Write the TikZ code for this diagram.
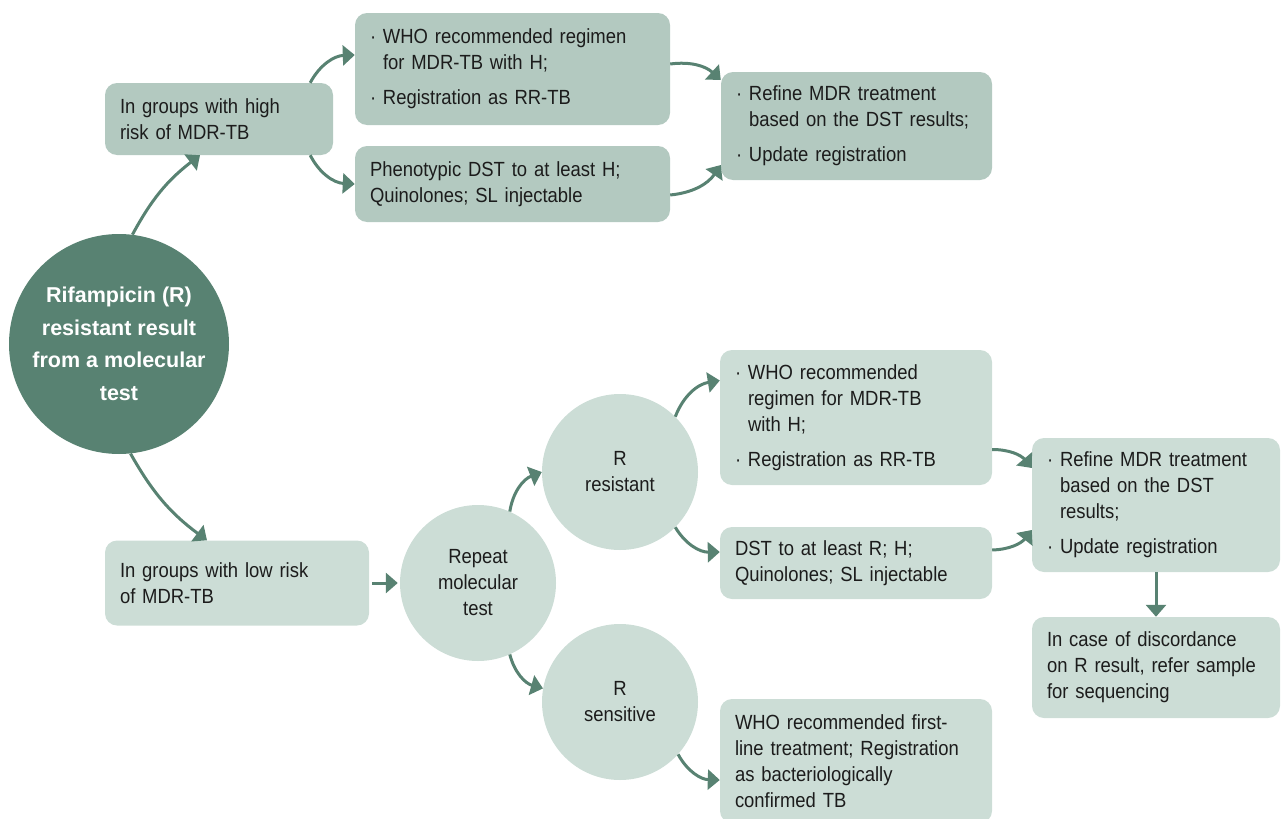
\documentclass[tikz,border=0pt]{standalone}
\usepackage{fontspec}
\setmainfont{Liberation Sans}[FakeStretch=0.9]
\newfontfamily\titlefont{Liberation Sans}
\usetikzlibrary{arrows.meta}
\definecolor{dk}{RGB}{88,130,114}
\definecolor{midc}{RGB}{179,201,192}
\definecolor{ltc}{RGB}{204,221,214}
\definecolor{txt}{RGB}{28,28,28}
\newcommand{\bl}{\textperiodcentered}
\tikzset{
  boxbase/.style={rectangle, rounded corners=12pt, draw=none, text=txt, align=left,
    inner xsep=15pt, inner ysep=0pt, font=\fontsize{20.5}{26}\selectfont, anchor=center},
  boxA/.style={boxbase, fill=midc},
  boxB/.style={boxbase, fill=ltc},
  circ/.style={circle, fill=ltc, draw=none, text=txt, align=center, inner sep=0pt,
    minimum size=156pt, font=\fontsize{20.5}{26}\selectfont},
  maincirc/.style={circle, fill=dk, draw=none, text=white, align=center, inner sep=0pt,
    minimum size=220pt, font=\titlefont\bfseries\fontsize{21.5}{32.5}\selectfont},
  arr/.style={draw=dk, line width=3pt, -{Triangle[length=12pt,width=20pt]}}
}
\begin{document}
\begin{tikzpicture}[x=1pt,y=-1pt]
\path[use as bounding box, clip] (0,0) rectangle (1285,819);
% main circle
\node[maincirc] (main) at (119,344) {Rifampicin (R)\\resistant result\\from a molecular\\test};
% top branch
\node[boxA, minimum width=228pt, minimum height=72pt, text width=198pt] (hi) at (219,119)
  {In groups with high\\risk of MDR-TB};
\node[boxA, minimum width=315pt, minimum height=112pt, text width=285pt] (t1) at (512.5,69)
  {\begin{tabular}{@{}p{13pt}@{}l@{}}\bl&WHO recommended regimen\\&for MDR-TB with H;\\[9pt]\bl&Registration as RR-TB\end{tabular}};
\node[boxA, minimum width=315pt, minimum height=76pt, text width=285pt] (t2) at (512.5,184)
  {Phenotypic DST to at least H;\\Quinolones; SL injectable};
\node[boxA, minimum width=271pt, minimum height=108pt, text width=241pt] (tr) at (856.5,126)
  {\begin{tabular}{@{}p{13pt}@{}l@{}}\bl&Refine MDR treatment\\&based on the DST results;\\[9pt]\bl&Update registration\end{tabular}};
% bottom branch
\node[boxB, minimum width=264pt, minimum height=85pt, text width=234pt] (lo) at (237,583)
  {In groups with low risk\\of MDR-TB};
\node[circ] (rep) at (478,583) {Repeat\\molecular\\test};
\node[circ] (rr) at (620,472) {R\\resistant};
\node[circ] (rs) at (620,702) {R\\sensitive};
\node[boxB, minimum width=272pt, minimum height=135pt, text width=242pt] (m1) at (856,417.5)
  {\begin{tabular}{@{}p{13pt}@{}l@{}}\bl&WHO recommended\\&regimen for MDR-TB\\&with H;\\[9pt]\bl&Registration as RR-TB\end{tabular}};
\node[boxB, minimum width=272pt, minimum height=72pt, text width=242pt] (m2) at (856,563)
  {DST to at least R; H;\\Quinolones; SL injectable};
\node[boxB, minimum width=272pt, minimum height=124pt, text width=242pt] (sb) at (856,761)
  {WHO recommended first-\\line treatment; Registration\\as bacteriologically\\confirmed TB};
\node[boxB, minimum width=248pt, minimum height=134pt, text width=218pt] (rb) at (1156,505)
  {\begin{tabular}{@{}p{13pt}@{}l@{}}\bl&Refine MDR treatment\\&based on the DST\\&results;\\[9pt]\bl&Update registration\end{tabular}};
\node[boxB, minimum width=248pt, minimum height=101pt, text width=218pt] (db) at (1156,667.5)
  {In case of discordance\\on R result, refer sample\\for sequencing};
% connectors
\draw[arr] (main.83) to[bend left=12] ([xshift=-19pt]hi.south);
\draw[arr] ([xshift=-23pt]hi.north east) to[bend left=30] ([yshift=14pt]t1.west);
\draw[arr] ([xshift=-23pt]hi.south east) to[bend right=30] (t2.west);
\draw[arr] ([yshift=5pt]t1.east) to[bend left=25] ([yshift=46pt]tr.west);
\draw[arr] ([yshift=-11pt]t2.east) to[bend right=25] ([yshift=-39pt]tr.west);
\draw[arr] (main.-84) to[bend right=12] ([xshift=-30pt]lo.north);
\draw[arr] ([xshift=3pt]lo.east) -- ([xshift=-2pt]rep.west);
\draw[arr] (rep.66) to[bend left=30] (rr.west);
\draw[arr] (rep.-66) to[bend right=30] (rs.170);
\draw[arr] (rr.45) to[bend left=30] ([yshift=37pt]m1.west);
\draw[arr] (rr.-45) to[bend right=30] ([yshift=11pt]m2.west);
\draw[arr] (rs.-42) to[bend right=30] ([yshift=-19pt]sb.west);
\draw[arr] ([yshift=-32pt]m1.east) to[bend left=25] ([yshift=37pt]rb.west);
\draw[arr] ([yshift=13pt]m2.east) to[bend right=25] ([yshift=-25pt]rb.west);
\draw[arr] (rb.south) -- (db.north);
\end{tikzpicture}
\end{document}
